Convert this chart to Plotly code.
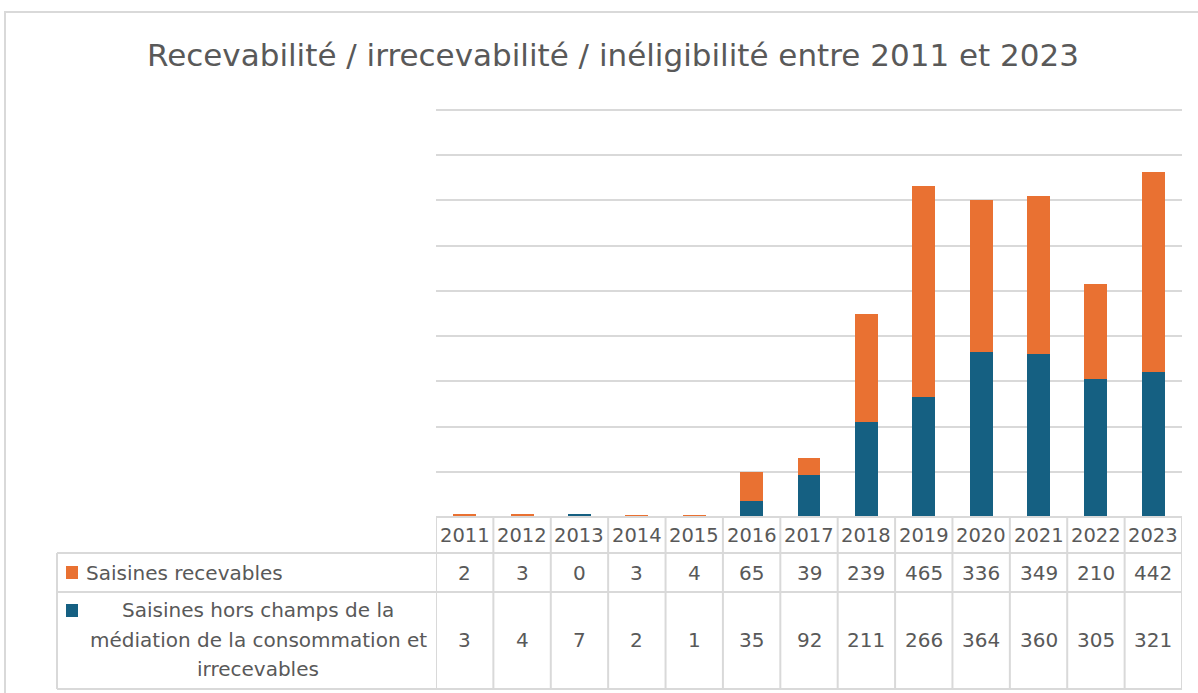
import plotly.graph_objects as go

# Data
years = ["2011", "2012", "2013", "2014", "2015", "2016", "2017",
         "2018", "2019", "2020", "2021", "2022", "2023"]
recevables = [2, 3, 0, 3, 4, 65, 39, 239, 465, 336, 349, 210, 442]
hors_champ = [3, 4, 7, 2, 1, 35, 92, 211, 266, 364, 360, 305, 321]

label_recevables = "Saisines recevables"
label_hors_champ = ["Saisines hors champs de la",
                    "médiation de la consommation et",
                    "irrecevables"]
title_text = "Recevabilité / irrecevabilité / inéligibilité entre 2011 et 2023"

# Style
W, H = 1198, 693
BLUE = "#156082"
ORANGE = "#E97132"
GRID = "#D9D9D9"
TXT = "#595959"
FONT = "DejaVu Sans"

def px(x):
    return x / W

def py(y):
    return 1 - y / H

# Plot area (pixels)
PL, PR = 436, 1182
PT, PB = 101, 517
YMAX = 920

fig = go.Figure()
fig.add_trace(go.Bar(x=years, y=hors_champ, marker_color=BLUE,
                     marker_line_width=0, name=" ".join(label_hors_champ)))
fig.add_trace(go.Bar(x=years, y=recevables, marker_color=ORANGE,
                     marker_line_width=0, name=label_recevables))

shapes = []
annotations = []

# Table geometry
T_HEAD_TOP, T_ROW1_TOP, T_ROW2_TOP, T_BOTTOM = 517, 553, 592, 689
T_LEFT = 57
n = len(years)

def hline(x0, x1, y, xref="paper"):
    shapes.append(dict(type="line", xref=xref, yref="paper",
                       x0=x0, x1=x1, y0=py(y), y1=py(y),
                       line=dict(color=GRID, width=2)))

def vline(x, y0, y1, xref="paper"):
    shapes.append(dict(type="line", xref=xref, yref="paper",
                       x0=x, x1=x, y0=py(y0), y1=py(y1),
                       line=dict(color=GRID, width=2)))

# horizontal table lines
hline(-0.5, n - 0.5, T_HEAD_TOP, xref="x")
hline(px(T_LEFT), px(PR), T_ROW1_TOP)
hline(px(T_LEFT), px(PR), T_ROW2_TOP)
hline(px(T_LEFT), px(PR), T_BOTTOM)
# vertical table lines at category boundaries
for i in range(n + 1):
    vline(i - 0.5, T_HEAD_TOP, T_BOTTOM, xref="x")
vline(px(T_LEFT), T_ROW1_TOP, T_BOTTOM)

# chart outer border
shapes.append(dict(type="rect", xref="paper", yref="paper",
                   x0=px(5), x1=px(1205), y0=py(12), y1=py(700),
                   line=dict(color=GRID, width=2)))

# legend swatches in the table
for yc, col in [(572.5, ORANGE), (610.5, BLUE)]:
    shapes.append(dict(type="rect", xref="paper", yref="paper",
                       x0=px(66), x1=px(78), y0=py(yc - 6.5), y1=py(yc + 6.5),
                       fillcolor=col, line=dict(width=0)))

def text(x, y, s, xref="paper", xanchor="center", size=20):
    annotations.append(dict(x=x, y=py(y), xref=xref, yref="paper", text=s,
                            showarrow=False, xanchor=xanchor, yanchor="middle",
                            font=dict(family=FONT, size=size, color=TXT)))

for i, yr in enumerate(years):
    text(i, 535, yr, xref="x", size=19.5)
    text(i, 573, str(recevables[i]), xref="x")
    text(i, 640, str(hors_champ[i]), xref="x")

text(px(84), 573, label_recevables, xanchor="left")
for k, line in enumerate(label_hors_champ):
    text(px(258), 610 + 29.5 * k, line)

fig.update_layout(
    width=W, height=H,
    margin=dict(l=0, r=0, t=0, b=0),
    paper_bgcolor="white", plot_bgcolor="white",
    barmode="stack", bargap=0.6,
    showlegend=False,
    title=dict(text=title_text, x=px(613), y=py(55), xanchor="center",
               yanchor="middle",
               font=dict(family=FONT, size=31, color=TXT)),
    xaxis=dict(domain=[px(PL), px(PR)], showticklabels=False, ticks="",
               showgrid=False, zeroline=False, showline=False,
               range=[-0.5, n - 0.5]),
    yaxis=dict(domain=[py(PB), py(PT)], range=[0, YMAX], dtick=100,
               showticklabels=False, ticks="", showgrid=True,
               gridcolor=GRID, gridwidth=2, zeroline=False, showline=False),
    shapes=shapes, annotations=annotations,
)

fig.write_html("out.html")
